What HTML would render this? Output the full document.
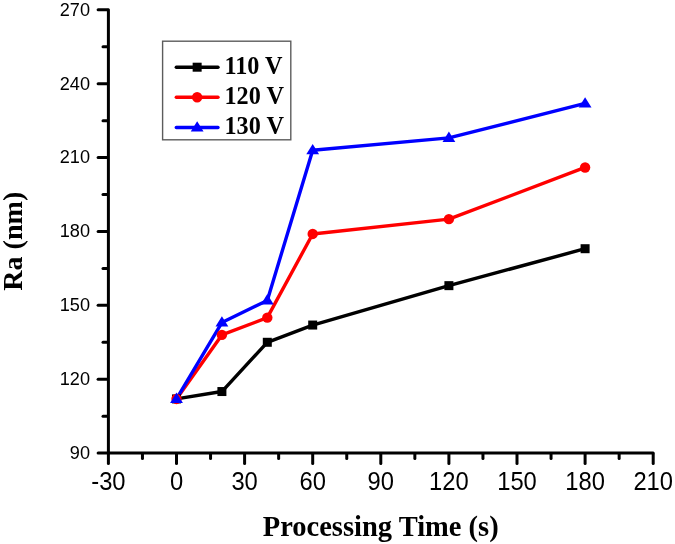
<!DOCTYPE html><html><head><meta charset="utf-8"><style>html,body{margin:0;padding:0;background:#fff;}svg{display:block;will-change:transform;}.s{font-family:"Liberation Sans",sans-serif;fill:#000;}.b{font-family:"Liberation Serif",serif;font-weight:bold;fill:#000;}</style></head><body>
<svg width="675" height="544" viewBox="0 0 675 544">
<rect width="675" height="544" fill="#fff"/>
<g stroke="#000" stroke-width="3.0" stroke-linecap="round" fill="none">
<line x1="108.4" y1="9.85" x2="108.4" y2="453.1"/>
<line x1="108.4" y1="453.1" x2="653.2" y2="453.1"/>
<line x1="98.10" y1="453.10" x2="107.40" y2="453.10"/>
<line x1="103.00" y1="416.16" x2="107.40" y2="416.16"/>
<line x1="98.10" y1="379.23" x2="107.40" y2="379.23"/>
<line x1="103.00" y1="342.29" x2="107.40" y2="342.29"/>
<line x1="98.10" y1="305.35" x2="107.40" y2="305.35"/>
<line x1="103.00" y1="268.41" x2="107.40" y2="268.41"/>
<line x1="98.10" y1="231.48" x2="107.40" y2="231.48"/>
<line x1="103.00" y1="194.54" x2="107.40" y2="194.54"/>
<line x1="98.10" y1="157.60" x2="107.40" y2="157.60"/>
<line x1="103.00" y1="120.66" x2="107.40" y2="120.66"/>
<line x1="98.10" y1="83.73" x2="107.40" y2="83.73"/>
<line x1="103.00" y1="46.79" x2="107.40" y2="46.79"/>
<line x1="98.10" y1="9.85" x2="107.40" y2="9.85"/>
<line x1="108.40" y1="454.10" x2="108.40" y2="463.40"/>
<line x1="142.45" y1="454.10" x2="142.45" y2="458.50"/>
<line x1="176.50" y1="454.10" x2="176.50" y2="463.40"/>
<line x1="210.55" y1="454.10" x2="210.55" y2="458.50"/>
<line x1="244.60" y1="454.10" x2="244.60" y2="463.40"/>
<line x1="278.65" y1="454.10" x2="278.65" y2="458.50"/>
<line x1="312.70" y1="454.10" x2="312.70" y2="463.40"/>
<line x1="346.75" y1="454.10" x2="346.75" y2="458.50"/>
<line x1="380.80" y1="454.10" x2="380.80" y2="463.40"/>
<line x1="414.85" y1="454.10" x2="414.85" y2="458.50"/>
<line x1="448.90" y1="454.10" x2="448.90" y2="463.40"/>
<line x1="482.95" y1="454.10" x2="482.95" y2="458.50"/>
<line x1="517.00" y1="454.10" x2="517.00" y2="463.40"/>
<line x1="551.05" y1="454.10" x2="551.05" y2="458.50"/>
<line x1="585.10" y1="454.10" x2="585.10" y2="463.40"/>
<line x1="619.15" y1="454.10" x2="619.15" y2="458.50"/>
<line x1="653.20" y1="454.10" x2="653.20" y2="463.40"/>
</g>
<text class="s" transform="translate(90.0,458.90) scale(0.975,1.03)" font-size="18.6" text-anchor="end">90</text>
<text class="s" transform="translate(90.0,385.03) scale(0.975,1.03)" font-size="18.6" text-anchor="end">120</text>
<text class="s" transform="translate(90.0,311.15) scale(0.975,1.03)" font-size="18.6" text-anchor="end">150</text>
<text class="s" transform="translate(90.0,237.28) scale(0.975,1.03)" font-size="18.6" text-anchor="end">180</text>
<text class="s" transform="translate(90.0,163.40) scale(0.975,1.03)" font-size="18.6" text-anchor="end">210</text>
<text class="s" transform="translate(90.0,89.53) scale(0.975,1.03)" font-size="18.6" text-anchor="end">240</text>
<text class="s" transform="translate(90.0,15.65) scale(0.975,1.03)" font-size="18.6" text-anchor="end">270</text>
<text class="s" transform="translate(108.40,489.6) scale(0.97,1.055)" font-size="24.5" text-anchor="middle">-30</text>
<text class="s" transform="translate(176.50,489.6) scale(0.97,1.055)" font-size="24.5" text-anchor="middle">0</text>
<text class="s" transform="translate(244.60,489.6) scale(0.97,1.055)" font-size="24.5" text-anchor="middle">30</text>
<text class="s" transform="translate(312.70,489.6) scale(0.97,1.055)" font-size="24.5" text-anchor="middle">60</text>
<text class="s" transform="translate(380.80,489.6) scale(0.97,1.055)" font-size="24.5" text-anchor="middle">90</text>
<text class="s" transform="translate(448.90,489.6) scale(0.97,1.055)" font-size="24.5" text-anchor="middle">120</text>
<text class="s" transform="translate(517.00,489.6) scale(0.97,1.055)" font-size="24.5" text-anchor="middle">150</text>
<text class="s" transform="translate(585.10,489.6) scale(0.97,1.055)" font-size="24.5" text-anchor="middle">180</text>
<text class="s" transform="translate(653.20,489.6) scale(0.97,1.055)" font-size="24.5" text-anchor="middle">210</text>
<text class="b" x="380.7" y="535.7" font-size="28.5" text-anchor="middle">Processing Time (s)</text>
<text class="b" transform="translate(22.2,241.2) rotate(-90)" x="0" y="0" font-size="28.1" text-anchor="middle">Ra (nm)</text>
<polyline points="176.50,398.93 221.90,391.54 267.30,342.29 312.70,325.05 448.90,285.65 585.10,248.71" fill="none" stroke="#000000" stroke-width="3.4" stroke-linejoin="round" stroke-linecap="round"/>
<polyline points="176.50,398.93 221.90,334.90 267.30,317.66 312.70,233.94 448.90,219.16 585.10,167.45" fill="none" stroke="#ff0000" stroke-width="3.4" stroke-linejoin="round" stroke-linecap="round"/>
<polyline points="176.50,398.93 221.90,322.59 267.30,300.43 312.70,150.21 448.90,137.90 585.10,103.43" fill="none" stroke="#0000ff" stroke-width="3.4" stroke-linejoin="round" stroke-linecap="round"/>
<rect x="172.00" y="394.43" width="9.0" height="9.0" fill="#000000"/>
<rect x="217.40" y="387.04" width="9.0" height="9.0" fill="#000000"/>
<rect x="262.80" y="337.79" width="9.0" height="9.0" fill="#000000"/>
<rect x="308.20" y="320.55" width="9.0" height="9.0" fill="#000000"/>
<rect x="444.40" y="281.15" width="9.0" height="9.0" fill="#000000"/>
<rect x="580.60" y="244.21" width="9.0" height="9.0" fill="#000000"/>
<circle cx="176.50" cy="398.93" r="5.2" fill="#ff0000"/>
<circle cx="221.90" cy="334.90" r="5.2" fill="#ff0000"/>
<circle cx="267.30" cy="317.66" r="5.2" fill="#ff0000"/>
<circle cx="312.70" cy="233.94" r="5.2" fill="#ff0000"/>
<circle cx="448.90" cy="219.16" r="5.2" fill="#ff0000"/>
<circle cx="585.10" cy="167.45" r="5.2" fill="#ff0000"/>
<polygon points="176.50,392.62 182.90,402.93 170.10,402.93" fill="#0000ff"/>
<polygon points="221.90,316.29 228.30,326.59 215.50,326.59" fill="#0000ff"/>
<polygon points="267.30,294.12 273.70,304.43 260.90,304.43" fill="#0000ff"/>
<polygon points="312.70,143.91 319.10,154.21 306.30,154.21" fill="#0000ff"/>
<polygon points="448.90,131.60 455.30,141.90 442.50,141.90" fill="#0000ff"/>
<polygon points="585.10,97.13 591.50,107.43 578.70,107.43" fill="#0000ff"/>
<rect x="162.6" y="41.2" width="128.20" height="98.60" fill="none" stroke="#5c5c5c" stroke-width="1.4"/>
<line x1="176.3" y1="67.2" x2="218.0" y2="67.2" stroke="#000000" stroke-width="3.4" stroke-linecap="round"/>
<rect x="192.65" y="62.70" width="9.0" height="9.0" fill="#000000"/>
<text class="b" x="224.5" y="73.90" font-size="24.2">110 V</text>
<line x1="176.3" y1="97.3" x2="218.0" y2="97.3" stroke="#ff0000" stroke-width="3.4" stroke-linecap="round"/>
<circle cx="197.15" cy="97.30" r="5.2" fill="#ff0000"/>
<text class="b" x="224.5" y="104.00" font-size="24.2">120 V</text>
<line x1="176.3" y1="127.5" x2="218.0" y2="127.5" stroke="#0000ff" stroke-width="3.4" stroke-linecap="round"/>
<polygon points="197.15,121.20 203.55,131.50 190.75,131.50" fill="#0000ff"/>
<text class="b" x="224.5" y="134.20" font-size="24.2">130 V</text>
</svg></body></html>
